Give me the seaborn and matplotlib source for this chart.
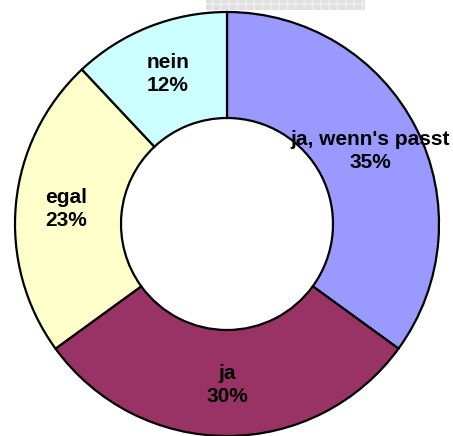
import matplotlib
matplotlib.use("Agg")
import matplotlib.pyplot as plt
from matplotlib.patches import Rectangle
import seaborn as sns

# data
categories = ["ja, wenn's passt", "ja", "egal", "nein"]
shares = [35, 30, 23, 12]
colors = ["#9999FF", "#993366", "#FFFFCC", "#CCFFFF"]

sns.set_theme(style="white")
plt.rcParams['font.family'] = ['Liberation Sans', 'DejaVu Sans']

fig = plt.figure(figsize=(4.53, 4.36), dpi=100)
fig.patch.set_facecolor("white")

# small grey grid strip at the top edge (artifact in the original)
strip = Rectangle((206 / 453, 1 - 10 / 436), 159 / 453, 10 / 436,
                  transform=fig.transFigure, facecolor="#e0e0e0",
                  edgecolor="#f0f0f0", hatch="++", linewidth=0)
fig.patches.append(strip)

ax = fig.add_axes([15 / 453, 0, 424 / 453, 424 / 436])
labels = [f"{c}\n{s}%" for c, s in zip(categories, shares)]
wedges, texts = ax.pie(shares, labels=labels, colors=colors, startangle=90,
                       counterclock=False, radius=1.0, labeldistance=0.76,
                       wedgeprops=dict(width=0.5, edgecolor="black", linewidth=1.6),
                       textprops=dict(fontsize=15, fontweight="bold", color="black",
                                      ha="center", va="center", linespacing=1.25))
for w in wedges:
    w.set_clip_on(False)
ax.set_xlim(-1, 1)
ax.set_ylim(-1, 1)
ax.set_aspect("equal")
ax.axis("off")

fig.savefig("out.png", dpi=100)
